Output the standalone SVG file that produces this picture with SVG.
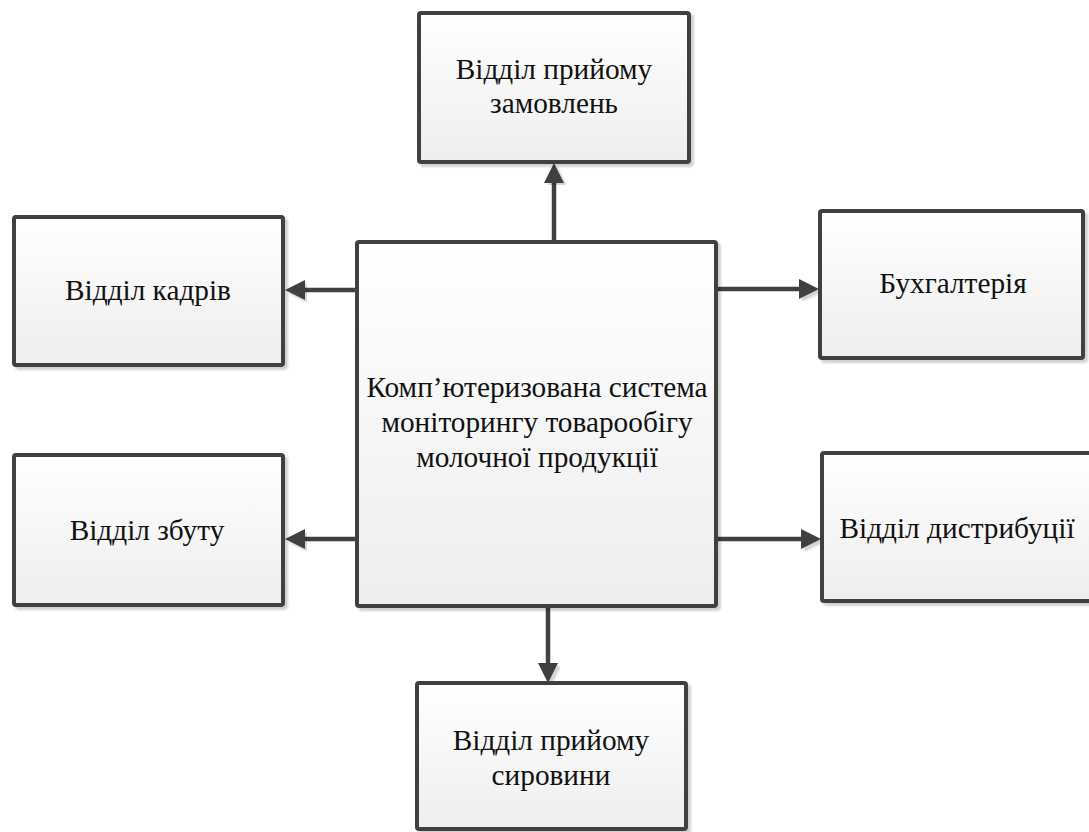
<svg xmlns="http://www.w3.org/2000/svg" width="1089" height="832" viewBox="0 0 1089 832">
  <style>
    .box { fill: url(#boxFill); stroke: #404040; stroke-width: 4; filter: url(#shadow); }
    .link { stroke: #404040; stroke-width: 4.5; fill: none; }
    .head { fill: #404040; filter: url(#shadow); }
  </style>
  <defs>
    <linearGradient id="boxFill" x1="0" y1="0" x2="0" y2="1">
      <stop offset="0" stop-color="#ffffff"/>
      <stop offset="1" stop-color="#eeeeee"/>
    </linearGradient>
    <filter id="shadow" x="-5%" y="-5%" width="115%" height="115%">
      <feGaussianBlur in="SourceAlpha" stdDeviation="1.2"/>
      <feOffset dx="3" dy="3" result="off"/>
      <feComponentTransfer><feFuncA type="linear" slope="0.18"/></feComponentTransfer>
      <feMerge><feMergeNode/><feMergeNode in="SourceGraphic"/></feMerge>
    </filter>
  </defs>

  <rect width="1089" height="832" fill="#ffffff"/>

  <!-- connectors from the central system to each department -->
  <g id="connectors">
    <line class="link" x1="554" y1="242" x2="554" y2="180"/>
    <polygon class="head" points="554,163 544,183 564,183"/>

    <line class="link" x1="357" y1="290" x2="302" y2="290"/>
    <polygon class="head" points="285,290 305,280 305,300"/>

    <line class="link" x1="716" y1="289" x2="801" y2="289"/>
    <polygon class="head" points="819,289 799,279 799,299"/>

    <line class="link" x1="357" y1="539" x2="302" y2="539"/>
    <polygon class="head" points="285,539 305,529 305,549"/>

    <line class="link" x1="716" y1="539" x2="803" y2="539"/>
    <polygon class="head" points="821,539 801,529 801,549"/>

    <line class="link" x1="548" y1="606" x2="548" y2="665"/>
    <polygon class="head" points="548,683 538,663 558,663"/>
  </g>

  <g font-family="Liberation Serif" font-size="29.3" fill="#111111" text-anchor="middle">
    <g id="node-center">
      <rect class="box" x="357" y="242" width="359" height="364" rx="2"/>
      <text x="537" y="397">Комп’ютеризована система</text>
      <text x="537" y="432">моніторингу товарообігу</text>
      <text x="537" y="467">молочної продукції</text>
    </g>

    <g id="node-orders">
      <rect class="box" x="419" y="13" width="270" height="149" rx="2"/>
      <text x="554" y="79">Відділ прийому</text>
      <text x="554" y="113">замовлень</text>
    </g>

    <g id="node-hr">
      <rect class="box" x="14" y="217" width="269" height="148" rx="2"/>
      <text x="148" y="300">Відділ кадрів</text>
    </g>

    <g id="node-accounting">
      <rect class="box" x="820" y="211" width="263" height="147" rx="2"/>
      <text x="953" y="293">Бухгалтерія</text>
    </g>

    <g id="node-sales">
      <rect class="box" x="14" y="455" width="269" height="150" rx="2"/>
      <text x="147" y="540">Відділ збуту</text>
    </g>

    <g id="node-distribution">
      <rect class="box" x="822" y="453" width="272" height="148" rx="2"/>
      <text x="957" y="538">Відділ дистрибуції</text>
    </g>

    <g id="node-raw">
      <rect class="box" x="417" y="683" width="269" height="146" rx="2"/>
      <text x="551" y="750">Відділ прийому</text>
      <text x="551" y="785">сировини</text>
    </g>
  </g>
</svg>
